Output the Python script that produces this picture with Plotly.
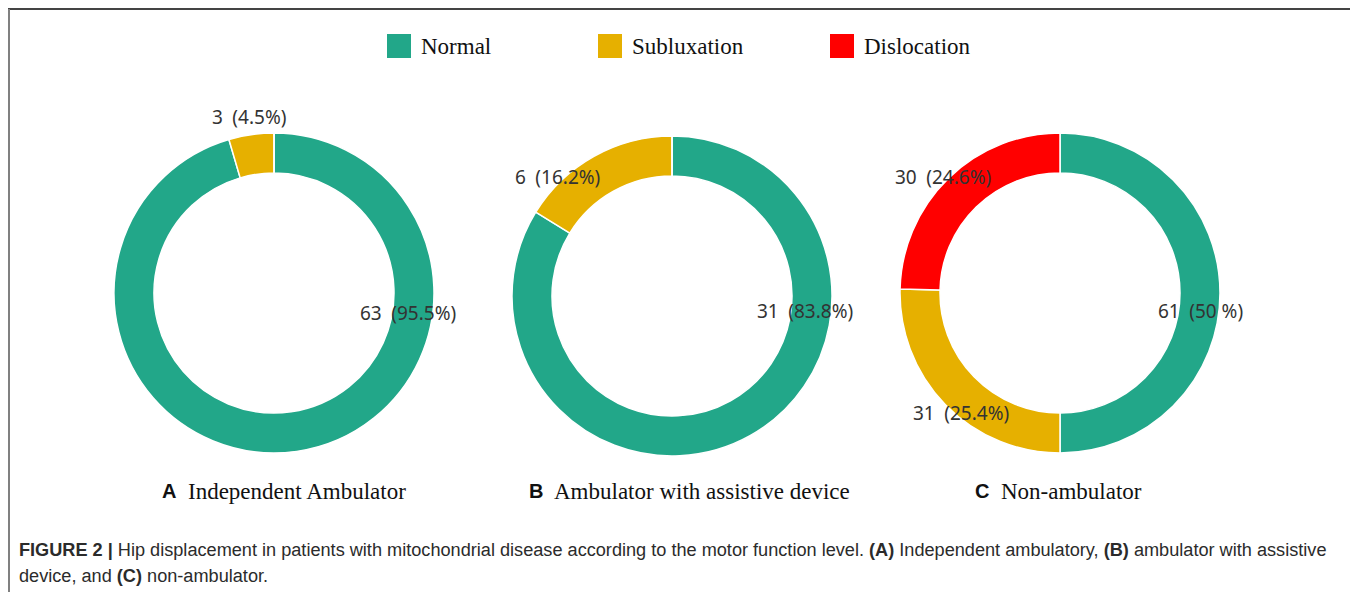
import plotly.graph_objects as go

OFF = 8                      # page body margin of the html page
W, H = 1358 - OFF, 592 - OFF  # figure size so that it fills the window

# ---- data ----
categories = ["Normal", "Subluxation", "Dislocation"]
colors = ["#22A789", "#E6B000", "#FF0000"]
panel_letters = ["A", "B", "C"]
panel_names = ["Independent Ambulator", "Ambulator with assistive device", "Non-ambulator"]
values_A = [63, 3, 0]
values_B = [31, 6, 0]
values_C = [61, 31, 30]
panel_values = [values_A, values_B, values_C]

caption_line1 = ("<b>FIGURE 2 |</b> Hip displacement in patients with mitochondrial disease according to the "
                 "motor function level. <b>(A)</b> Independent ambulatory, <b>(B)</b> ambulator with assistive")
caption_line2 = "device, and <b>(C)</b> non-ambulator."

# ---- layout (page pixel positions) ----
centers = [(274, 293), (672, 296), (1060, 293)]
radius = 160
# label anchor (left x, middle y) for each slice of each panel (None = no label)
label_pos = [
    [(358, 313), (210, 117), None],
    [(755, 311), (513, 177), None],
    [(1156, 311), (911, 413), (893, 177)],
]
subtitle_pos = [(160, 186), (527, 552), (973, 999)]
subtitle_y = 491
legend_sq = [387, 598, 830]
legend_y = 46


def px(x):
    return (x - OFF) / W


def py(y):
    return 1 - (y - OFF) / H


def pct_text(v, total):
    s = f"{v / total * 100:.1f}"
    if s.endswith(".0"):
        s = s[:-2] + " "
    return f"{v}\u2002({s}%)"


fig = go.Figure()
annotations = []
shapes = []

for i, vals in enumerate(panel_values):
    cx, cy = centers[i]
    fig.add_trace(go.Pie(
        labels=categories,
        values=vals,
        marker=dict(colors=colors, line=dict(color="white", width=1.5)),
        hole=0.75,
        sort=False,
        direction="clockwise",
        rotation=0,
        textinfo="none",
        showlegend=False,
        domain=dict(x=[px(cx - radius), px(cx + radius)], y=[py(cy + radius), py(cy - radius)]),
        hovertemplate="%{label}: %{value} (%{percent})<extra></extra>",
    ))
    total = sum(vals)
    for j, v in enumerate(vals):
        pos = label_pos[i][j]
        if v == 0 or pos is None:
            continue
        annotations.append(dict(
            x=px(pos[0]), y=py(pos[1]), xref="paper", yref="paper",
            xanchor="left", yanchor="middle", showarrow=False,
            text=pct_text(v, total),
            font=dict(family="Noto Sans, Open Sans, sans-serif", size=19, color="#333333"),
        ))
    # subtitle
    lx, nx = subtitle_pos[i]
    annotations.append(dict(
        x=px(lx), y=py(subtitle_y), xref="paper", yref="paper",
        xanchor="left", yanchor="middle", showarrow=False,
        text=f"<b>{panel_letters[i]}</b>",
        font=dict(family="Liberation Sans, Arial, sans-serif", size=20, color="#111111"),
    ))
    annotations.append(dict(
        x=px(nx), y=py(subtitle_y), xref="paper", yref="paper",
        xanchor="left", yanchor="middle", showarrow=False,
        text=panel_names[i],
        font=dict(family="Liberation Serif, Times New Roman, serif", size=23, color="#111111"),
    ))

# legend (drawn)
for k, cat in enumerate(categories):
    x0 = legend_sq[k]
    shapes.append(dict(type="rect", xref="paper", yref="paper",
                       x0=px(x0), x1=px(x0 + 24), y0=py(legend_y + 12), y1=py(legend_y - 12),
                       fillcolor=colors[k], line=dict(width=0)))
    annotations.append(dict(
        x=px(x0 + 32), y=py(legend_y), xref="paper", yref="paper",
        xanchor="left", yanchor="middle", showarrow=False,
        text=cat,
        font=dict(family="Liberation Serif, Times New Roman, serif", size=23, color="#111111"),
    ))

# caption
for txt, y in [(caption_line1, 550), (caption_line2, 576)]:
    annotations.append(dict(
        x=px(17), y=py(y), xref="paper", yref="paper",
        xanchor="left", yanchor="middle", showarrow=False,
        text=txt,
        font=dict(family="Liberation Sans, Arial, sans-serif", size=18.15, color="#2b2b2b"),
    ))

# frame
shapes.append(dict(type="line", xref="paper", yref="paper", x0=px(8), x1=px(1356), y0=py(9), y1=py(9),
                   line=dict(color="#444444", width=2)))
shapes.append(dict(type="line", xref="paper", yref="paper", x0=px(9), x1=px(9), y0=py(9), y1=0,
                   line=dict(color="#808080", width=2)))
shapes.append(dict(type="line", xref="paper", yref="paper", x0=px(1355.5), x1=px(1355.5), y0=py(9), y1=0,
                   line=dict(color="#808080", width=2)))

fig.update_layout(
    width=W, height=H,
    margin=dict(l=0, r=0, t=0, b=0),
    paper_bgcolor="white", plot_bgcolor="white",
    annotations=annotations,
    shapes=shapes,
)

fig.write_html("out.html")
